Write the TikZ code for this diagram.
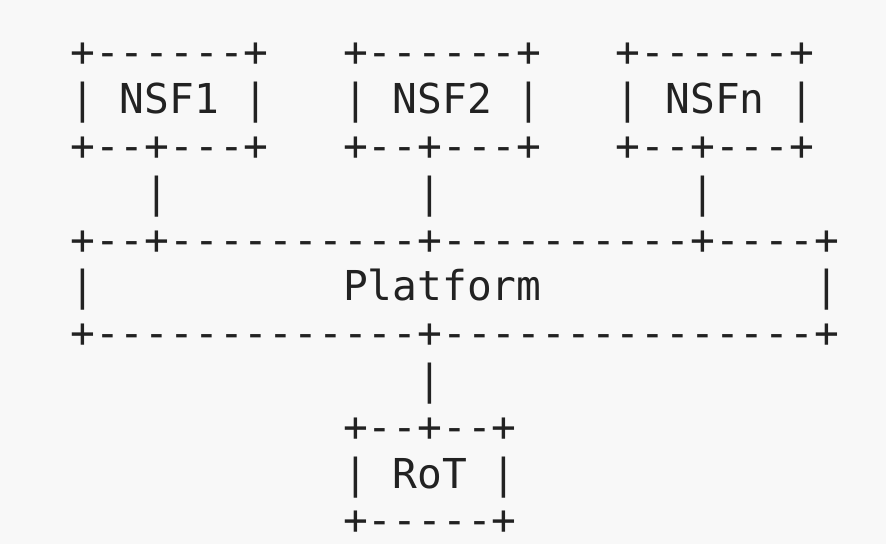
\documentclass[tikz,border=0pt]{standalone}
\usepackage{fontspec}
\setmonofont{DejaVu Sans Mono}[Ligatures=TeXOff]
\definecolor{paper}{HTML}{F8F8F8}
\definecolor{ink}{HTML}{222222}
\begin{document}
\begin{tikzpicture}[x=1pt,y=-1pt,
  asciirow/.style={anchor=base west, inner sep=0pt, outer sep=0pt, text=ink,
    font=\ttfamily\fontsize{41.2}{46.8}\selectfont}]
  \fill[paper] (0,0) rectangle (886,544);
  \useasboundingbox (0,0) rectangle (886,544);
  % network security functions
  \node[asciirow] (r1) at (70.3, 66.8) {+------+\ \ \ +------+\ \ \ +------+};
  \node[asciirow] (r2) at (70.3,113.6) {|\ NSF1\ |\ \ \ |\ NSF2\ |\ \ \ |\ NSFn\ |};
  \node[asciirow] (r3) at (70.3,160.4) {+--+---+\ \ \ +--+---+\ \ \ +--+---+};
  \node[asciirow] (r4) at (70.3,207.2) {\ \ \ |\ \ \ \ \ \ \ \ \ \ |\ \ \ \ \ \ \ \ \ \ |};
  % platform
  \node[asciirow] (r5) at (70.3,254.0) {+--+----------+----------+----+};
  \node[asciirow] (r6) at (70.3,300.8) {|\ \ \ \ \ \ \ \ \ \ Platform\ \ \ \ \ \ \ \ \ \ \ |};
  \node[asciirow] (r7) at (70.3,347.6) {+-------------+---------------+};
  \node[asciirow] (r8) at (70.3,394.4) {\ \ \ \ \ \ \ \ \ \ \ \ \ \ |};
  % root of trust
  \node[asciirow] (r9) at (70.3,441.2) {\ \ \ \ \ \ \ \ \ \ \ +--+--+};
  \node[asciirow] (r10) at (70.3,488.0) {\ \ \ \ \ \ \ \ \ \ \ |\ RoT\ |};
  \node[asciirow] (r11) at (70.3,534.8) {\ \ \ \ \ \ \ \ \ \ \ +-----+};
\end{tikzpicture}
\end{document}
